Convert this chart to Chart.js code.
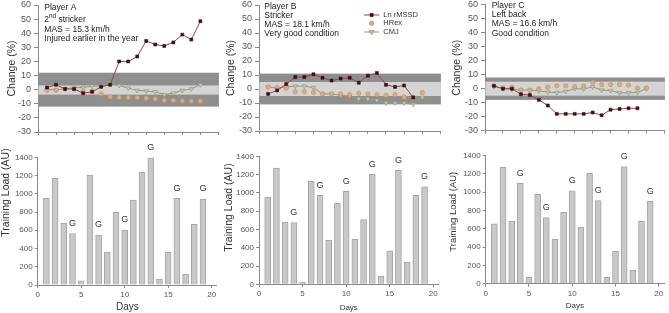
<!DOCTYPE html>
<html><head><meta charset="utf-8">
<script src="https://cdn.jsdelivr.net/npm/chart.js@4.4.1/dist/chart.umd.min.js"></script>
<style>
html,body{margin:0;padding:0;background:#fff;width:669px;height:313px;overflow:hidden}
.p{position:absolute}
</style></head><body>
<div class="p" style="left:0;top:0;width:223px;height:140px"><canvas id="tA"></canvas></div>
<div class="p" style="left:220px;top:0;width:225px;height:140px"><canvas id="tB"></canvas></div>
<div class="p" style="left:445px;top:0;width:224px;height:140px"><canvas id="tC"></canvas></div>
<div class="p" style="left:0;top:140px;width:223px;height:173px"><canvas id="bA"></canvas></div>
<div class="p" style="left:220px;top:140px;width:225px;height:173px"><canvas id="bB"></canvas></div>
<div class="p" style="left:445px;top:140px;width:224px;height:173px"><canvas id="bC"></canvas></div>
<script>
// ---------- data ----------
const days = [1,2,3,4,5,6,7,8,9,10,11,12,13,14,15,16,17,18,19];
const gameDays = [4,7,10,13,16,19];
const xTopTicks = [0,2,4,6,8,10,12,14,16,18,20];
const xBotTicks = [0,5,10,15,20];
const seriesNames = ['Ln rMSSD','HRex','CMJ'];

// Player A
const lnA  = [1.5,3.5,0.5,0.5,-2.5,-1.5,2,3.5,20,20,23.5,34.5,32,31,33.5,39,35.5,48.5];
const hrA  = [-0.5,-0.5,0.5,0.5,-1,-1,-3,-5,-5.5,-5.5,-5.5,-6,-6.5,-7.5,-7.5,-8,-8,-8];
const cmjA = [0,0,0.5,1.5,1.5,2.5,2.5,4,3,1,-0.5,-1,-1.5,-3.5,-2.5,-0.5,0.5,3.5];
const outerA = [-12,12], innerA = [-3.5,3];
const loadA = [950,1170,680,565,45,1205,548,362,797,603,932,1235,1395,66,358,950,120,665,943];
const notesA = ['Player A','2|nd| stricker','MAS = 15.3 km/h','Injured earlier in the year'];

// Player B
const lnB  = [-3.5,-1,3.5,8.5,8.5,10.5,8,6,7.5,8,4.5,9.5,11.5,3,1.5,2.5,-6];
const hrB  = [1.5,1,0.5,-2,-2,-2.5,-3.5,-3.5,-3.5,-4,-3,-3.5,-4,-4.5,-4,-5.5,-6,-2.5];
const cmjB = [1.5,0.5,1.5,2,2,1,-3.5,-3.5,-4.5,-5,-7,-7,-8,-10,-10,-10,-11,-6];
const outerB = [-11,11], innerB = [-5,5];
const loadB = [952,1272,678,674,22,1127,973,485,886,1017,492,707,1203,91,365,1247,244,973,1065];
const notesB = ['Player B','Stricker','MAS = 18.1 km/h','Very good condition'];

// Player C
const lnC  = [2,0,0,-4,-4.5,-8,-12,-18,-18,-18,-18,-17,-19,-15,-14.5,-14,-14];
const hrC  = [2,0.5,1,-1,-1,0,1,2,2,1.5,2,4.5,3,3,3,2.5,0.5,0.5];
const cmjC = [1.5,0,-0.5,-1,-1,-1.5,-2.5,-2.8,-2,0,-0.2,1.3,-1,-1.4,-3,-3,-2.7,0];
const outerC = [-8,8], innerC = [-5,5];
const loadC = [656,1272,685,1097,73,977,722,485,780,1017,620,1207,908,69,357,1280,149,685,900];
const notesC = ['Player C','Left back','MAS = 16.6 km/h','Good condition'];

// ---------- styling ----------
const FONT = 'Arial, "Liberation Sans", sans-serif';
Chart.defaults.font.family = FONT;
const AXIS = '#8a8a8a';
const ST = {
  ln:  {line:'#9a4545', fill:'#3d0f17', border:'#3d0f17', style:'rect', r:2.1},
  hr:  {fill:'#dcaa7c', border:'#c9925f', style:'circle', r:2.2},
  cmj: {line:'#8d9c84', fill:'#c6c8b6', border:'#8a957c', style:'triangle', r:2.6}
};

function xy(arr){ return arr.map((v,i)=>({x:days[i], y:v})); }

function bandPlugin(outer, inner){
  return {id:'bands', beforeDatasetsDraw(chart){
    const {ctx, chartArea:a, scales:{y}} = chart;
    ctx.save();
    ctx.fillStyle = '#8e8e8e';
    let t = y.getPixelForValue(outer[1]), b = y.getPixelForValue(outer[0]);
    ctx.fillRect(a.left+0.5, t, a.right-a.left, b-t);
    ctx.fillStyle = '#d4d4d4';
    t = y.getPixelForValue(inner[1]); b = y.getPixelForValue(inner[0]);
    ctx.fillRect(a.left+0.5, t, a.right-a.left, b-t);
    ctx.restore();
  }};
}

function notePlugin(lines, x, ys, size){
  return {id:'notes', afterDraw(chart){
    const ctx = chart.ctx; ctx.save();
    ctx.fillStyle = '#222'; ctx.textBaseline = 'middle'; ctx.textAlign = 'left';
    lines.forEach((ln, i) => {
      const parts = ln.split('|');
      let cx = x;
      parts.forEach((p, k) => {
        const sup = parts.length > 1 && k === 1;
        const s = sup ? size*0.75 : size;
        ctx.font = s + 'px ' + FONT;
        ctx.fillText(p, cx, sup ? ys[i] - size*0.4 : ys[i]);
        cx += ctx.measureText(p).width;
      });
    });
    ctx.restore();
  }};
}

function drawMarker(ctx, st, x, y){
  ctx.save();
  ctx.fillStyle = st.fill; ctx.strokeStyle = st.border; ctx.lineWidth = 0.8;
  ctx.beginPath();
  if (st.style === 'rect') { const s = st.r*0.71; ctx.rect(x-s, y-s, 2*s, 2*s); }
  else if (st.style === 'circle') { ctx.arc(x, y, st.r, 0, Math.PI*2); }
  else { const r = st.r; ctx.moveTo(x-r, y-r*0.55); ctx.lineTo(x+r, y-r*0.55); ctx.lineTo(x, y+r); ctx.closePath(); }
  ctx.fill(); ctx.stroke(); ctx.restore();
}

function legendPlugin(x0, x1, tx, ys){
  return {id:'lgd', afterDraw(chart){
    const ctx = chart.ctx; ctx.save();
    const sts = [ST.ln, ST.hr, ST.cmj];
    sts.forEach((st, i) => {
      if (st.line) { ctx.strokeStyle = st.line; ctx.lineWidth = 1; ctx.beginPath(); ctx.moveTo(x0, ys[i]); ctx.lineTo(x1, ys[i]); ctx.stroke(); }
      drawMarker(ctx, st, (x0+x1)/2, ys[i]);
      ctx.fillStyle = '#333'; ctx.font = '7.5px ' + FONT; ctx.textBaseline = 'middle'; ctx.textAlign = 'left';
      ctx.fillText(seriesNames[i], tx, ys[i]);
    });
    ctx.restore();
  }};
}

function gPlugin(loads){
  return {id:'games', afterDatasetsDraw(chart){
    const {ctx, scales:{x, y}} = chart; ctx.save();
    ctx.fillStyle = '#333'; ctx.font = '9px ' + FONT; ctx.textAlign = 'center'; ctx.textBaseline = 'middle';
    gameDays.forEach(d => {
      const i = days.indexOf(d);
      ctx.fillText('G', x.getPixelForValue(d), y.getPixelForValue(loads[i]) - 10);
    });
    ctx.restore();
  }};
}

function yTitlePlugin(text, cx, cy, size){
  return {id:'ytitle', afterDraw(chart){
    const ctx = chart.ctx; ctx.save();
    ctx.translate(cx, cy); ctx.rotate(-Math.PI/2);
    ctx.fillStyle = '#333'; ctx.font = size + 'px ' + FONT; ctx.textAlign = 'center'; ctx.textBaseline = 'middle';
    ctx.fillText(text, 0, 0);
    ctx.restore();
  }};
}

const plain = v => String(v);

function topChart(id, ln, hr, cmj, outer, inner, g, extra){
  return new Chart(document.getElementById(id), {
    type:'line',
    data:{datasets:[
      {label:seriesNames[0], data:xy(ln), borderColor:ST.ln.line, borderWidth:1, pointStyle:ST.ln.style, pointRadius:ST.ln.r,
       pointBackgroundColor:ST.ln.fill, pointBorderColor:ST.ln.border, pointBorderWidth:0.6, order:1},
      {label:seriesNames[1], data:xy(hr), showLine:false, pointStyle:ST.hr.style, pointRadius:ST.hr.r,
       pointBackgroundColor:ST.hr.fill, pointBorderColor:ST.hr.border, pointBorderWidth:0.6, order:2},
      {label:seriesNames[2], data:xy(cmj), borderColor:ST.cmj.line, borderWidth:1, pointStyle:ST.cmj.style, pointRotation:180,
       pointRadius:ST.cmj.r, pointBackgroundColor:ST.cmj.fill, pointBorderColor:ST.cmj.border, pointBorderWidth:0.6, order:3}
    ]},
    options:{
      animation:false, responsive:true, maintainAspectRatio:false,
      layout:{padding:{top:g.top, right:g.right, left:0, bottom:0}},
      plugins:{legend:{display:false}, tooltip:{enabled:false}},
      scales:{
        x:{type:'linear', min:0, max:20,
           afterBuildTicks:s=>{ s.ticks = xTopTicks.map(v=>({value:v})); },
           ticks:{display:false},
           grid:{drawOnChartArea:false, drawTicks:true, tickLength:3, color:AXIS},
           border:{color:AXIS},
           afterFit:s=>{ s.height = g.xh; s.paddingLeft = 0; s.paddingRight = 0; }},
        y:{min:-30, max:60,
           ticks:{stepSize:10, font:{size:9}, color:'#555', padding:3, callback:plain},
           grid:{drawOnChartArea:false, tickLength:4, color:AXIS},
           border:{color:AXIS},
           title:{display:true, text:'Change (%)', font:{size:10.5}, color:'#333', padding:{top:g.tp, bottom:0}},
           afterFit:s=>{ s.width = g.yw; s.paddingTop = 0; s.paddingBottom = 0; }}
      }
    },
    plugins:[bandPlugin(outer, inner)].concat(extra)
  });
}

function bottomChart(id, loads, g, extra){
  return new Chart(document.getElementById(id), {
    type:'bar',
    data:{datasets:[{data:xy(loads), backgroundColor:'#c8c8c8', borderColor:'#a6a6a6', borderWidth:1, barThickness:6}]},
    options:{
      animation:false, responsive:true, maintainAspectRatio:false,
      layout:{padding:{top:g.top, right:g.right, left:0, bottom:0}},
      plugins:{legend:{display:false}, tooltip:{enabled:false}},
      scales:{
        x:{type:'linear', min:0, max:20.6, offset:false,
           afterBuildTicks:s=>{ s.ticks = xBotTicks.map(v=>({value:v})); },
           ticks:{font:{size:8}, color:'#555', padding:2, maxRotation:0, callback:plain},
           grid:{drawOnChartArea:false, tickLength:3, color:AXIS, offset:false},
           border:{color:AXIS},
           title:{display:true, text:'Days', font:{size:g.ds}, color:'#333', padding:{top:0, bottom:g.dp}},
           afterFit:s=>{ s.height = g.xh; s.paddingLeft = 0; s.paddingRight = 0; }},
        y:{min:0, max:1400,
           ticks:{stepSize:200, font:{size:8}, color:'#555', padding:2, callback:plain},
           grid:{drawOnChartArea:false, tickLength:3, color:AXIS},
           border:{color:AXIS},
           afterFit:s=>{ s.width = g.yw; s.paddingTop = 0; s.paddingBottom = 0; }}
      }
    },
    plugins:[gPlugin(loads)].concat(extra)
  });
}

// top row
topChart('tA', lnA, hrA, cmjA, outerA, innerA, {top:5, right:2, xh:8, yw:38, tp:5.7},
  [notePlugin(notesA, 44.3, [7.3, 20, 29.3, 38.8], 8.5)]);
topChart('tB', lnB, hrB, cmjB, outerB, innerB, {top:5, right:3.5, xh:9, yw:39, tp:4.7},
  [notePlugin(notesB, 44.3, [6.7, 15.7, 24.7, 33.7], 8.5), legendPlugin(144, 159.3, 163.3, [15, 23.3, 32])]);
topChart('tC', lnC, hrC, cmjC, outerC, innerC, {top:4, right:2, xh:9.3, yw:40, tp:5.4},
  [notePlugin(notesC, 46.7, [6, 14.7, 24, 33.3], 8.5)]);

// bottom row
bottomChart('bA', loadA, {top:17.3, right:6.1, xh:28, yw:37.7, ds:10, dp:0},
  [yTitlePlugin('Training Load (AU)', 5.7, 52.5, 10.5)]);
bottomChart('bB', loadB, {top:16.3, right:6.5, xh:28.7, yw:39, ds:8, dp:0},
  [yTitlePlugin('Training Load (AU)', 9, 67.5, 10.5)]);
bottomChart('bC', loadC, {top:15.7, right:5, xh:29.3, yw:40.7, ds:8, dp:2.5},
  [yTitlePlugin('Training Load (AU)', 8.3, 71.7, 9.5)]);
</script>
</body></html>
